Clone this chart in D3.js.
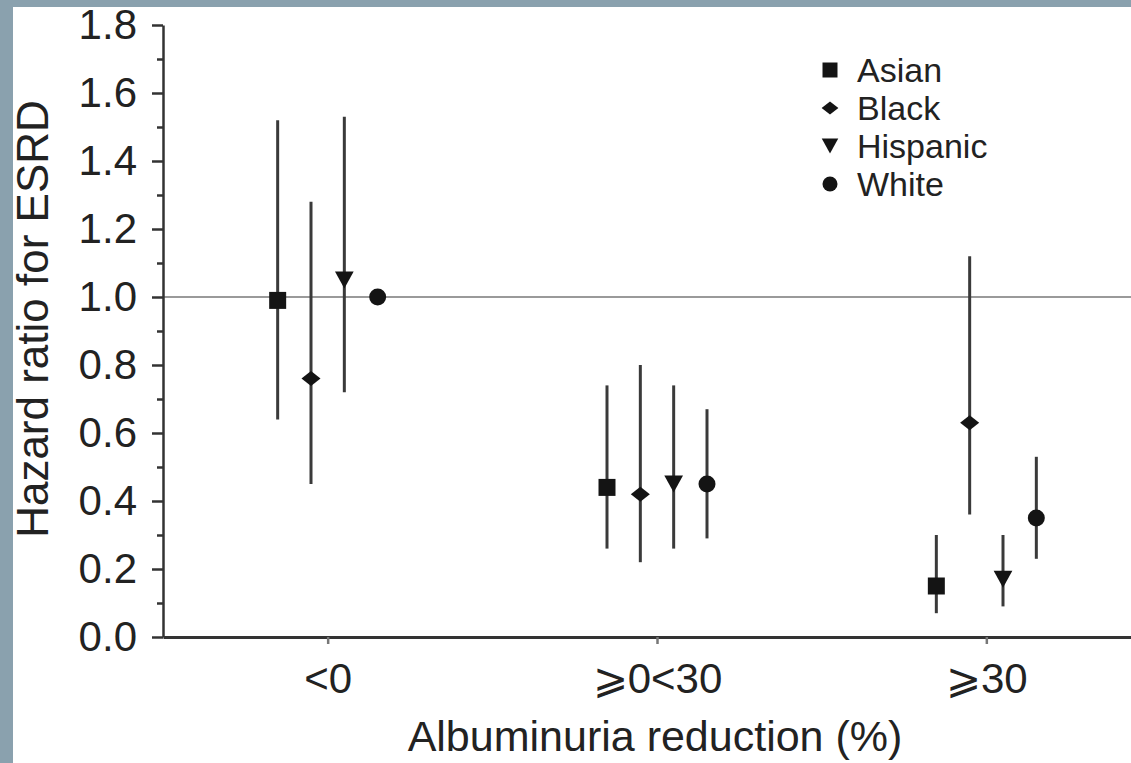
<!DOCTYPE html>
<html>
<head>
<meta charset="utf-8">
<script src="https://cdn.jsdelivr.net/npm/d3@7"></script>
<style>
  html, body { margin: 0; padding: 0; background: #8aa1ae; }
  svg { display: block; }
  text { font-family: "Liberation Sans", Arial, Helvetica, sans-serif; fill: #222; }
</style>
</head>
<body>
<svg id="chart" width="1131" height="763"></svg>
<script>
// ---- data ----
const categories = ["<0", "\u2A7E0<30", "\u2A7E30"];
const groups = ["Asian", "Black", "Hispanic", "White"];
const yTicks = [0, 0.2, 0.4, 0.6, 0.8, 1.0, 1.2, 1.4, 1.6, 1.8];
const yMinorTicks = [0.1, 0.3, 0.5, 0.7, 0.9, 1.1, 1.3, 1.5, 1.7];

const asianEst = [0.99, 0.44, 0.15];
const asianLo  = [0.64, 0.26, 0.07];
const asianHi  = [1.52, 0.74, 0.30];

const blackEst = [0.76, 0.42, 0.63];
const blackLo  = [0.45, 0.22, 0.36];
const blackHi  = [1.28, 0.80, 1.12];

const hispanicEst = [1.05, 0.45, 0.17];
const hispanicLo  = [0.72, 0.26, 0.09];
const hispanicHi  = [1.53, 0.74, 0.30];

const whiteEst = [1.00, 0.45, 0.35];
const whiteLo  = [null, 0.29, 0.23];
const whiteHi  = [null, 0.67, 0.53];

const referenceHR = 1.0;

// ---- build table ----
const seriesEst = [asianEst, blackEst, hispanicEst, whiteEst];
const seriesLo = [asianLo, blackLo, hispanicLo, whiteLo];
const seriesHi = [asianHi, blackHi, hispanicHi, whiteHi];
const rows = [];
groups.forEach((g, gi) => {
  categories.forEach((c, ci) => {
    rows.push({ group: g, cat: c, est: seriesEst[gi][ci], lo: seriesLo[gi][ci], hi: seriesHi[gi][ci] });
  });
});

// ---- layout ----
const svg = d3.select("#chart");
svg.append("rect").attr("x", 13).attr("y", 7).attr("width", 1131).attr("height", 763).attr("fill", "#fff");

const x = d3.scalePoint(categories, [163, 1151]).padding(0.5);
const xOff = d3.scalePoint(groups, [-50, 50]);
const y = d3.scaleLinear([0, 1.8], [637, 25]);

const axisColor = "#333";

// reference line
svg.append("line")
  .attr("x1", 163).attr("x2", 1131)
  .attr("y1", y(referenceHR)).attr("y2", y(referenceHR))
  .attr("stroke", "#9a9a9a").attr("stroke-width", 2.2);

// y axis (major)
const gy = svg.append("g").attr("transform", "translate(163,0)")
  .call(d3.axisLeft(y).tickValues(yTicks).tickFormat(d3.format(".1f")).tickSize(11).tickSizeOuter(0).tickPadding(15));
gy.select(".domain").attr("stroke", axisColor).attr("stroke-width", 2.5);
gy.selectAll(".tick line").attr("stroke", axisColor).attr("stroke-width", 2.5);
gy.selectAll(".tick text").attr("font-size", 42).attr("font-family", null).attr("fill", "#222");

// y axis (minor)
const gym = svg.append("g").attr("transform", "translate(163,0)")
  .call(d3.axisLeft(y).tickValues(yMinorTicks).tickFormat("").tickSize(6).tickSizeOuter(0));
gym.select(".domain").remove();
gym.selectAll(".tick line").attr("stroke", axisColor).attr("stroke-width", 2.5);

// x axis
const gx = svg.append("g").attr("transform", "translate(0,637)")
  .call(d3.axisBottom(x).tickSize(7).tickSizeOuter(0).tickPadding(4));
gx.select(".domain").attr("stroke", axisColor).attr("stroke-width", 3);
gx.selectAll(".tick line").attr("stroke", "#777").attr("stroke-width", 2.5);
gx.selectAll(".tick text").attr("font-size", 42).attr("font-family", null).attr("fill", "#222")
  .attr("dy", null).attr("y", 56);

// axis titles
svg.append("text")
  .attr("transform", "translate(48,319) rotate(-90)")
  .attr("text-anchor", "middle")
  .attr("font-size", 44)
  .text("Hazard ratio for ESRD");

svg.append("text")
  .attr("x", 655).attr("y", 751)
  .attr("text-anchor", "middle")
  .attr("font-size", 43)
  .text("Albuminuria reduction (%)");

// ---- symbols ----
function symbolPath(group, s) {
  if (group === "Asian") {
    const h = s / 2;
    return `M${-h},${-h}H${h}V${h}H${-h}Z`;
  }
  if (group === "Black") {
    const w = s * 0.56, h = s * 0.44;
    return `M0,${-h}L${w},0L0,${h}L${-w},0Z`;
  }
  if (group === "Hispanic") {
    const w = s * 0.55, h = s * 0.5;
    return `M${-w},${-h}L${w},${-h}L0,${h}Z`;
  }
  const r = s / 2;
  return `M${r},0A${r},${r} 0 1,1 ${-r},0A${r},${r} 0 1,1 ${r},0Z`;
}

const px = d => x(d.cat) + xOff(d.group);

// error bars
svg.append("g").selectAll("line")
  .data(rows.filter(d => d.lo != null))
  .join("line")
  .attr("x1", px).attr("x2", px)
  .attr("y1", d => y(d.lo)).attr("y2", d => y(d.hi))
  .attr("stroke", "#3a3a3a").attr("stroke-width", 3);

// points
svg.append("g").selectAll("path")
  .data(rows)
  .join("path")
  .attr("transform", d => `translate(${px(d)},${y(d.est)})`)
  .attr("d", d => symbolPath(d.group, 17))
  .attr("fill", "#141414");

// legend
const legendY = d3.scalePoint(groups, [70, 184]);
const lg = svg.append("g");
lg.selectAll("path").data(groups).join("path")
  .attr("transform", g => `translate(830,${legendY(g)})`)
  .attr("d", g => symbolPath(g, 15))
  .attr("fill", "#141414");
lg.selectAll("text").data(groups).join("text")
  .attr("x", 857).attr("y", g => legendY(g)).attr("dy", "0.36em")
  .attr("font-size", 34)
  .text(g => g);
</script>
</body>
</html>
